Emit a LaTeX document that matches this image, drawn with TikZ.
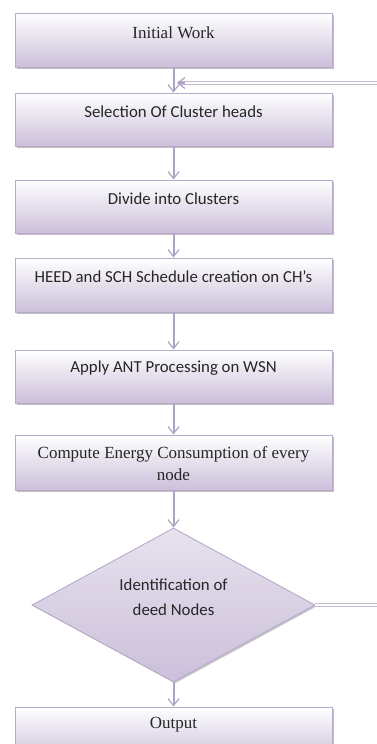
\documentclass[tikz,border=0pt]{standalone}
\usepackage{fontspec}
\setmainfont{Liberation Serif}
\newfontfamily\calib{Carlito}
\usetikzlibrary{arrows.meta,shapes.geometric,shadows}
\definecolor{lav}{HTML}{CBBFDA}
\definecolor{lavline}{HTML}{B8AACB}
\definecolor{arrc}{HTML}{AFA2C5}
\definecolor{fbc}{HTML}{C2BBD2}
\begin{document}
\begin{tikzpicture}[x=1pt,y=-1pt,
  box/.style={draw=lavline, line width=0.9pt, top color=white, bottom color=lav,
    minimum width=317pt, minimum height=54pt, inner sep=0pt,
    general shadow={fill=black!25, shadow xshift=1.8pt, shadow yshift=-1.8pt}},
  dia/.style={diamond, draw=lavline, line width=0.9pt, top color=white!55!lav, bottom color=lav,
    minimum width=283pt, minimum height=154pt, inner sep=0pt,
    general shadow={fill=black!22, shadow xshift=1.5pt, shadow yshift=-1.5pt}},
  sanst/.style={font=\calib\fontsize{16.8}{22}\selectfont, align=center, text=black!85, inner sep=0pt},
  serift/.style={font=\fontsize{17}{22}\selectfont, align=center, text=black!85, inner sep=0pt},
  arr/.style={draw=arrc, line width=2pt, -{Straight Barb[length=7pt,width=11pt,line width=1.2pt]}},
  fb/.style={draw=fbc, line width=0.8pt, double=white, double distance=1.6pt}
]
\useasboundingbox (0,0) rectangle (376,744);
\node[box] (b1) at (173.5,40) {};
\node[box, minimum height=53pt] (b2) at (173.5,119.5) {};
\node[box, minimum height=53pt] (b3) at (173.5,206.5) {};
\node[box] (b4) at (173.5,285) {};
\node[box, minimum height=53pt] (b5) at (173.5,376.5) {};
\node[box, minimum height=55pt] (b6) at (173.5,462.5) {};
\node[dia] (d) at (173.5,605) {};
\node[box, minimum height=53pt] (b7) at (173.5,733.5) {};

\node[serift] (t1) at (173.5,33) {Initial Work};
\node[sanst] (t2) at (173.5,112) {Selection Of Cluster heads};
\node[sanst] (t3) at (173.5,199) {Divide into Clusters};
\node[sanst] (t4) at (173.5,277) {HEED and SCH Schedule creation on CH’s};
\node[sanst] (t5) at (173.5,368) {Apply ANT Processing on WSN};
\node[serift] (t6) at (173.5,464) {Compute Energy Consumption of every\\node};
\node[sanst, font=\calib\fontsize{16.8}{25}\selectfont] (t7) at (173.5,597.5) {Identification of\\deed Nodes};
\node[serift] (t8) at (173.5,725) {Output};

\draw[arr] (b1.south) -- (b2.north);
\draw[arr] (b2.south) -- (b3.north);
\draw[arr] (b3.south) -- (b4.north);
\draw[arr] (b4.south) -- (b5.north);
\draw[arr] (b5.south) -- (b6.north);
\draw[arr] (b6.south) -- (d.north);
\draw[arr] (d.south) -- (b7.north);

\coordinate (fbin) at (177,83);
\coordinate (c1) at (395,605);
\coordinate (c2) at (395,83);
\draw[fb] (d.east) -- (c1) -- (c2) -- ([xshift=1pt]fbin);
\draw[draw=arrc, line width=1.2pt, -{Straight Barb[length=7pt,width=11pt]}] ([xshift=8pt]fbin) -- (fbin);
\end{tikzpicture}
\end{document}
